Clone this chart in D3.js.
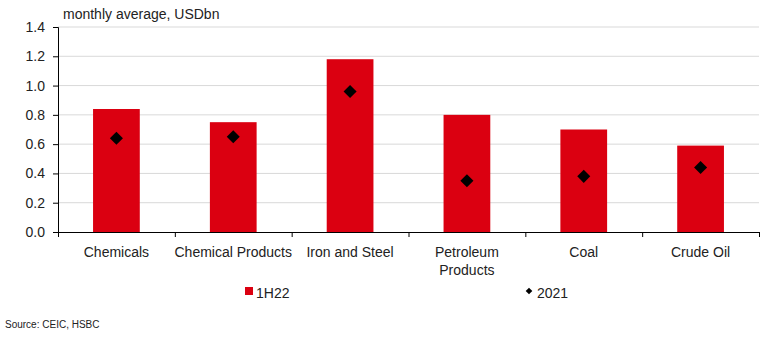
<!DOCTYPE html>
<html>
<head>
<meta charset="utf-8">
<script src="https://cdn.jsdelivr.net/npm/d3@7"></script>
<style>
  body { margin: 0; background: #fff; }
  svg text { font-family: "Liberation Sans", Arial, sans-serif; fill: #222; }
</style>
</head>
<body>
<div class="chart"></div>
<script>
// data
var categories = ["Chemicals", "Chemical Products", "Iron and Steel", "Petroleum Products", "Coal", "Crude Oil"];
var values1H22 = [0.84, 0.75, 1.18, 0.80, 0.70, 0.59];
var values2021 = [0.64, 0.65, 0.96, 0.35, 0.38, 0.44];
var yTicks = [0, 0.2, 0.4, 0.6, 0.8, 1.0, 1.2, 1.4];

var svgWidth = 773, svgHeight = 338;
var margin = {top: 27, right: 14, bottom: 106, left: 58};
var width = svgWidth - margin.left - margin.right;
var height = svgHeight - margin.top - margin.bottom;

var svg = d3.select(".chart").append("svg")
    .attr("width", svgWidth)
    .attr("height", svgHeight);

var chartGroup = svg.append("g")
    .attr("transform", `translate(${margin.left}, ${margin.top})`);

var x = d3.scaleBand().domain(categories).range([0, width]);
var y = d3.scaleLinear().domain([0, 1.4]).range([height, 0]);

// gridlines
chartGroup.selectAll(".grid")
    .data(yTicks.slice(1))
    .enter()
    .append("line")
    .attr("x1", 0)
    .attr("x2", width)
    .attr("y1", d => y(d))
    .attr("y2", d => y(d))
    .attr("stroke", "#d9d9d9")
    .attr("stroke-width", 1);

// bars
var barW = x.bandwidth() * 0.4;
chartGroup.selectAll(".bar")
    .data(values1H22)
    .enter()
    .append("rect")
    .attr("x", (d, i) => x(categories[i]) + (x.bandwidth() - barW) / 2)
    .attr("y", d => y(d))
    .attr("width", barW)
    .attr("height", d => height - y(d))
    .attr("fill", "#db0011");

// diamonds
var diamond = d3.symbol().type(d3.symbolSquare).size(85);
chartGroup.selectAll(".dot")
    .data(values2021)
    .enter()
    .append("path")
    .attr("d", diamond)
    .attr("transform", (d, i) => `translate(${x(categories[i]) + x.bandwidth() / 2},${y(d)}) rotate(45)`)
    .attr("fill", "#000");

// y axis
var yAxis = d3.axisLeft(y).tickValues(yTicks).tickFormat(d3.format(".1f")).tickSize(5).tickPadding(8);
var yG = chartGroup.append("g").call(yAxis);
yG.select(".domain").attr("stroke", "#000").attr("d", `M-5,0.5H0.5V${height}`);
yG.selectAll("text").style("font-size", "14px").attr("fill", "#222");

// x axis: ticks on category boundaries
var xG = chartGroup.append("g").attr("transform", `translate(0,${height})`);
xG.append("line")
    .attr("x1", 0).attr("x2", width)
    .attr("y1", 0.5).attr("y2", 0.5)
    .attr("stroke", "#000");
xG.selectAll(".tick")
    .data(categories.concat([null]))
    .enter()
    .append("line")
    .attr("x1", (d, i) => i * x.step() + 0.5)
    .attr("x2", (d, i) => i * x.step() + 0.5)
    .attr("y1", 0).attr("y2", 5)
    .attr("stroke", "#000");

// category labels (wrapped where the picture wraps)
var wrapped = {"Petroleum Products": ["Petroleum", "Products"]};
xG.selectAll(".lbl")
    .data(categories)
    .enter()
    .append("text")
    .attr("x", d => x(d) + x.bandwidth() / 2)
    .attr("y", 25)
    .attr("text-anchor", "middle")
    .style("font-size", "14px")
    .each(function(d) {
        var lines = wrapped[d] || [d];
        var t = d3.select(this);
        lines.forEach(function(l, j) {
            t.append("tspan").attr("x", x(d) + x.bandwidth() / 2).attr("dy", j === 0 ? 0 : 18).text(l);
        });
    });

// unit label
svg.append("text")
    .attr("x", 63)
    .attr("y", 19)
    .style("font-size", "14px")
    .text("monthly  average, USDbn");

// legend
svg.append("rect")
    .attr("x", 245).attr("y", 287)
    .attr("width", 8).attr("height", 8)
    .attr("fill", "#db0011");
svg.append("text")
    .attr("x", 256).attr("y", 298)
    .style("font-size", "14px")
    .text("1H22");

svg.append("path")
    .attr("d", d3.symbol().type(d3.symbolSquare).size(22))
    .attr("transform", "translate(529,291) rotate(45)")
    .attr("fill", "#000");
svg.append("text")
    .attr("x", 537).attr("y", 298)
    .style("font-size", "14px")
    .text("2021");

// source
svg.append("text")
    .attr("x", 5).attr("y", 328)
    .style("font-size", "10px")
    .text("Source: CEIC, HSBC");
</script>
</body>
</html>
